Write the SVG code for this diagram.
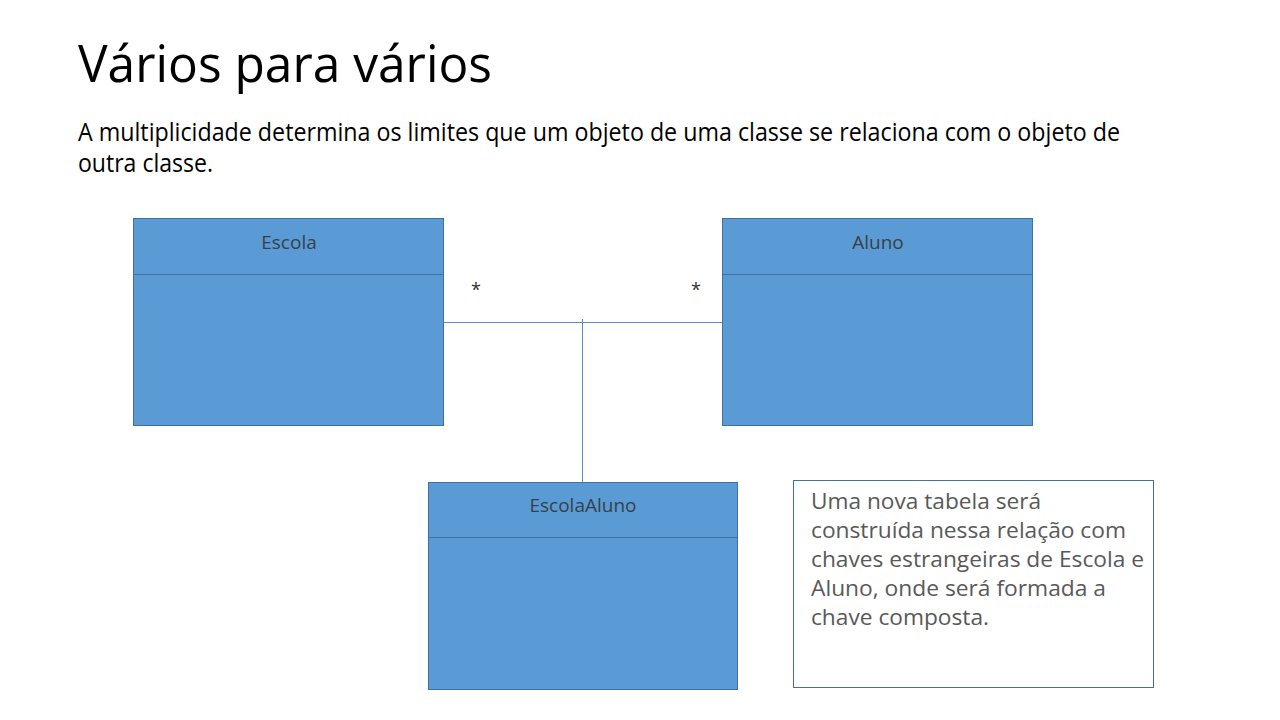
<svg xmlns="http://www.w3.org/2000/svg" width="1280" height="720" viewBox="0 0 1280 720">
<style>
.cls{fill:#5B9BD5;stroke:#41719C;stroke-width:1}
.div{stroke:#41719C;stroke-width:1}
.lbl{font-family:"Open Sans","Liberation Sans",sans-serif;font-size:19px;fill:#3A3F47;text-anchor:middle}
.conn{stroke:#5B8DC4;stroke-width:1;fill:none}
.mult{font-family:"Open Sans","Liberation Sans",sans-serif;font-size:18px;fill:#333}
.note{font-family:"Open Sans","Liberation Sans",sans-serif;font-size:22.5px;fill:#595959}
</style>
<rect width="1280" height="720" fill="#ffffff"/>
<text x="78" y="82" font-family="'Open Sans','Liberation Sans',sans-serif" font-size="52" fill="#000" textLength="414" lengthAdjust="spacingAndGlyphs">Vários para vários</text>
<text x="78" y="141" font-family="'Open Sans','Liberation Sans',sans-serif" font-size="25" fill="#000" textLength="1042" lengthAdjust="spacingAndGlyphs">A multiplicidade determina os limites que um objeto de uma classe se relaciona com o objeto de</text>
<text x="78" y="172" font-family="'Open Sans','Liberation Sans',sans-serif" font-size="25" fill="#000" textLength="135" lengthAdjust="spacingAndGlyphs">outra classe.</text>
<g id="connectors">
<line class="conn" x1="443" y1="322.5" x2="722" y2="322.5"/>
<line class="conn" x1="582.5" y1="319" x2="582.5" y2="482"/>
<text class="mult" x="471" y="296">*</text>
<text class="mult" x="691" y="296">*</text>
</g>
<g id="escola">
<rect class="cls" x="133.5" y="218.5" width="310" height="207"/>
<line class="div" x1="133.5" y1="274.5" x2="443.5" y2="274.5"/>
<text class="lbl" x="289" y="249">Escola</text>
</g>
<g id="aluno">
<rect class="cls" x="722.5" y="218.5" width="310" height="207"/>
<line class="div" x1="722.5" y1="274.5" x2="1032.5" y2="274.5"/>
<text class="lbl" x="878" y="249">Aluno</text>
</g>
<g id="escolaaluno">
<rect class="cls" x="428.5" y="482.5" width="309" height="207"/>
<line class="div" x1="428.5" y1="537.5" x2="737.5" y2="537.5"/>
<text class="lbl" x="583" y="512">EscolaAluno</text>
</g>
<g id="nota">
<rect x="793.5" y="480.5" width="360" height="207" fill="#ffffff" stroke="#41719C" stroke-width="1"/>
<text class="note" x="811" y="509" textLength="230" lengthAdjust="spacingAndGlyphs">Uma nova tabela será</text>
<text class="note" x="811" y="538" textLength="315" lengthAdjust="spacingAndGlyphs">construída nessa relação com</text>
<text class="note" x="811" y="567" textLength="333" lengthAdjust="spacingAndGlyphs">chaves estrangeiras de Escola e</text>
<text class="note" x="811" y="596" textLength="295" lengthAdjust="spacingAndGlyphs">Aluno, onde será formada a</text>
<text class="note" x="811" y="625" textLength="178" lengthAdjust="spacingAndGlyphs">chave composta.</text>
</g>
</svg>
